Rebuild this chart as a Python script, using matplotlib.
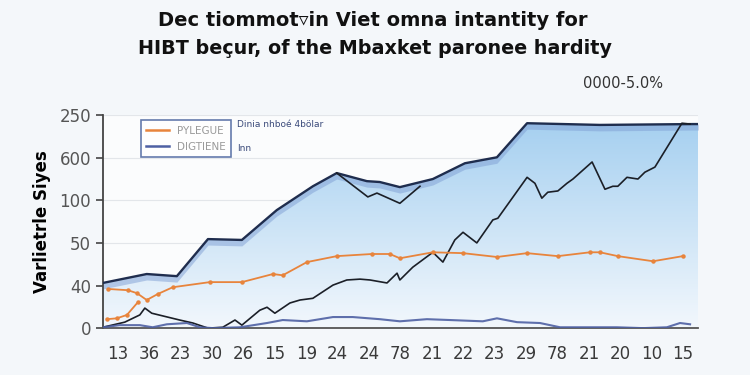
import numpy as np
import matplotlib.pyplot as plt
from matplotlib.lines import Line2D

# tick labels as printed in the picture
x_labels = ['13', '36', '23', '30', '26', '15', '19', '24', '24', '78',
            '21', '22', '23', '29', '78', '21', '20', '10', '15']
y_labels = ['0', '40', '50', '100', '600', '250']

# upper shaded area (envelope)
area_x = [-0.48, 0.92, 1.88, 2.87, 3.95, 5.06, 6.21, 6.97, 7.93, 8.34, 8.98,
          10.03, 11.05, 12.07, 13.03, 15.35, 18.31, 18.48]
area_y = [1.06, 1.27, 1.22, 2.09, 2.07, 2.77, 3.33, 3.64, 3.45, 3.43, 3.31,
          3.50, 3.87, 4.01, 4.81, 4.77, 4.79, 4.79]

# black line
black_x = [-0.48, 0.22, 0.70, 0.86, 1.08, 1.97, 2.39, 2.87, 3.34, 3.73, 3.95,
           4.52, 4.75, 5.00, 5.48, 5.80, 6.21, 6.85, 7.29, 7.71, 8.03, 8.57,
           8.89, 8.98, 9.39, 10.03, 10.35, 10.73, 10.99, 11.43, 11.94, 12.10,
           13.03, 13.28, 13.50, 13.69, 14.01, 14.30, 14.49, 15.10, 15.51,
           15.76, 15.92, 16.21, 16.56, 16.78, 17.10, 17.96, 18.22]
black_y = [0.02, 0.14, 0.31, 0.47, 0.35, 0.19, 0.12, 0.00, 0.02, 0.19, 0.07,
           0.42, 0.49, 0.35, 0.59, 0.66, 0.70, 1.01, 1.13, 1.15, 1.13, 1.06,
           1.29, 1.13, 1.43, 1.78, 1.55, 2.07, 2.25, 2.00, 2.54, 2.58,
           3.54, 3.40, 3.05, 3.19, 3.22, 3.40, 3.50, 3.90, 3.26,
           3.33, 3.33, 3.54, 3.50, 3.66, 3.78, 4.81, 4.79]

# short black branch under the peak
branch_x = [6.97, 7.96, 8.25, 8.98, 9.62]
branch_y = [3.64, 3.08, 3.17, 2.93, 3.33]

# orange lines
orange_x = [-0.32, 0.32, 0.61, 0.92, 1.27, 1.75, 2.93, 3.95, 4.94, 5.25, 6.02,
            6.97, 8.09, 8.66, 8.98, 10.03, 10.99, 12.07, 13.03, 14.01, 15.03,
            15.35, 15.92, 17.04, 17.99]
orange_y = [0.92, 0.89, 0.82, 0.66, 0.80, 0.96, 1.08, 1.08, 1.27, 1.24, 1.55,
            1.69, 1.74, 1.74, 1.64, 1.78, 1.76, 1.67, 1.76, 1.69, 1.78,
            1.78, 1.69, 1.57, 1.69]
orange2_x = [-0.35, -0.03, 0.29, 0.64]
orange2_y = [0.21, 0.23, 0.31, 0.61]

# slate blue line near the bottom
slate_x = [-0.48, 0.06, 0.70, 1.11, 1.56, 2.20, 2.61, 3.03, 3.89, 4.75, 5.25,
           6.02, 6.85, 7.48, 8.34, 8.98, 9.84, 10.57, 11.62, 12.07, 12.71,
           13.44, 14.08, 14.94, 15.89, 16.72, 17.48, 17.90, 18.22]
slate_y = [0.02, 0.07, 0.07, 0.02, 0.09, 0.12, 0.02, 0.00, 0.02, 0.12, 0.19,
           0.16, 0.26, 0.26, 0.21, 0.16, 0.21, 0.19, 0.16, 0.23, 0.14,
           0.12, 0.02, 0.02, 0.02, 0.00, 0.02, 0.12, 0.09]

fig = plt.figure(figsize=(7.5, 3.75), dpi=100, facecolor='#f4f7fa')
ax = fig.add_axes([0.137, 0.125, 0.794, 0.568])
ax.set_facecolor('#fbfcfd')

xmin, xmax = -0.48, 18.48
ax.set_xlim(xmin, xmax)
ax.set_ylim(0, 5)

# gradient fill under the envelope
poly = ax.fill_between(area_x, area_y, 0, color='none', lw=0)
top = np.array([0.64, 0.81, 0.94])
bottom = np.array([0.95, 0.97, 0.99])
t = np.linspace(0, 1, 256)[:, None]
grad = (bottom * (1 - t) + top * t)[:, None, :] * np.ones((1, 2, 1))
im = ax.imshow(grad, extent=[xmin, xmax, 0, 5], origin='lower', aspect='auto',
               zorder=1)
im.set_clip_path(poly.get_paths()[0], transform=ax.transData)

# darker strip just below the envelope
band = np.array(area_y) - 0.14
ax.fill_between(area_x, area_y, band, color='#7f9fd4', alpha=0.5, lw=0, zorder=2)
ax.plot(area_x, area_y, color='#1f2d4e', lw=1.7, zorder=4)

ax.plot(black_x, black_y, color='#1b1f27', lw=1.2, zorder=5)
ax.plot(branch_x, branch_y, color='#1b1f27', lw=1.2, zorder=5)
ax.plot(orange_x, orange_y, color='#e8843c', lw=1.3, marker='o', ms=2.2, zorder=5)
ax.plot(orange2_x, orange2_y, color='#e8843c', lw=1.3, marker='o', ms=2.2, zorder=5)
ax.plot(slate_x, slate_y, color='#4e60a3', lw=1.5, alpha=0.9, zorder=5)

# axes styling
ax.set_xticks(range(len(x_labels)))
ax.set_xticklabels(x_labels)
ax.set_yticks(range(len(y_labels)))
ax.set_yticklabels(y_labels)
ax.tick_params(axis='x', length=0, pad=12, labelsize=12, labelcolor='#3a3a3a')
ax.tick_params(axis='y', length=5, width=1.2, color='#444444', labelsize=12,
               labelcolor='#555555')
ax.grid(axis='y', color='#e3e6ea', lw=0.8, zorder=0)
ax.set_axisbelow(True)
for s in ['top', 'right']:
    ax.spines[s].set_visible(False)
ax.spines['left'].set_color('#444444')
ax.spines['left'].set_linewidth(1.3)
ax.spines['bottom'].set_color('#555555')
ax.spines['bottom'].set_linewidth(1.3)

ax.set_ylabel('Varlietrle Siyes', fontsize=12, fontweight='bold', labelpad=6)

handles = [Line2D([], [], color='#e8843c', lw=1.8),
           Line2D([], [], color='#4e60a3', lw=1.8)]
leg = ax.legend(handles, ['PYLEGUE', 'DIGTIENE'], loc='upper left',
                bbox_to_anchor=(0.055, 1.0), fancybox=False, fontsize=7.5,
                handlelength=2.2, borderpad=0.5, labelspacing=0.6)
leg.get_frame().set_edgecolor('#3f5a98')
leg.get_frame().set_linewidth(1.2)
leg.get_frame().set_facecolor('white')
for txt in leg.get_texts():
    txt.set_color('#9a9a9a')
leg.set_zorder(6)
ax.text(0.225, 0.955, 'Dinia nhboé 4bölar', transform=ax.transAxes,
        fontsize=6.5, color='#3a4a7a', va='center', zorder=7)
ax.text(0.225, 0.845, 'lnn', transform=ax.transAxes,
        fontsize=6.5, color='#3a4a7a', va='center', zorder=7)

fig.text(0.497, 0.945, 'Dec tiommot▿in Viet omna intantity for',
         ha='center', va='center', fontsize=14, fontweight='bold', color='#111111')
fig.text(0.5, 0.872, 'HIBT beçur, of the Mbaxket paronee hardity',
         ha='center', va='center', fontsize=13.8, fontweight='bold', color='#111111')
fig.text(0.83, 0.778, '0000-5.0%', ha='center', va='center', fontsize=10.5,
         color='#333333')

fig.savefig('out.png', dpi=100, facecolor=fig.get_facecolor())
